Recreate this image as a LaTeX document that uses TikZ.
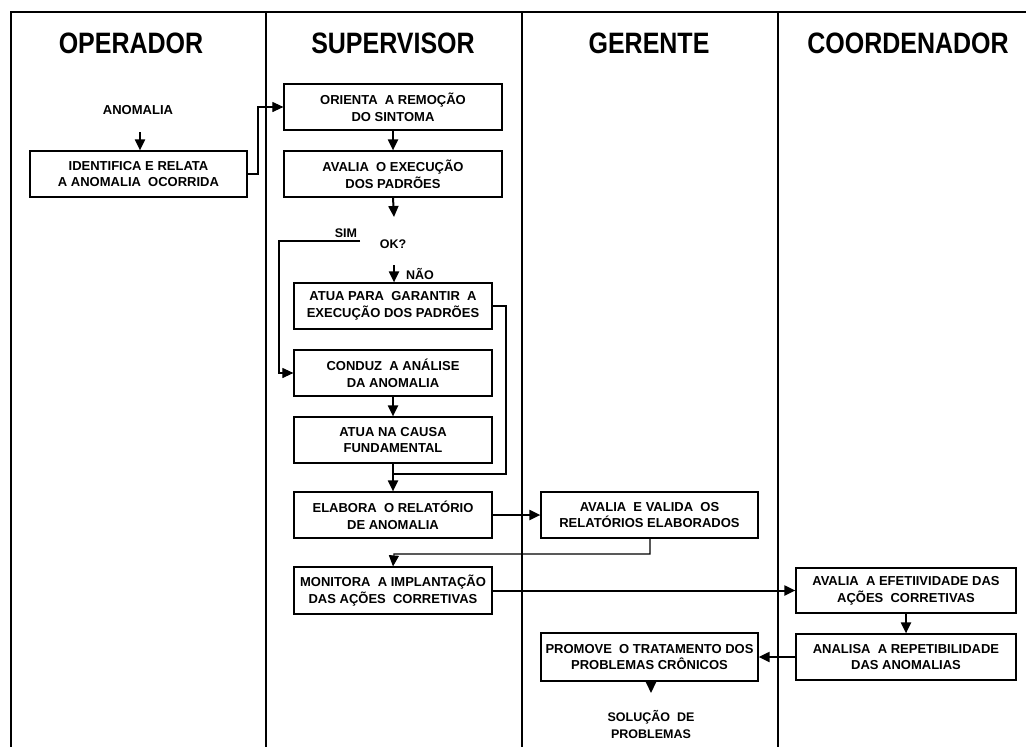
\documentclass[tikz,border=0pt]{standalone}
\usepackage{fontspec}
\setmainfont{Liberation Sans}
\usetikzlibrary{arrows.meta}
\begin{document}
\begin{tikzpicture}[x=1pt,y=-1pt,
 box/.style={draw, line width=1.2pt, minimum height=46pt, inner sep=0pt, align=center, font=\fontsize{13}{16.7}\selectfont\bfseries},
 wbox/.style={box, minimum width=218pt},
 nbox/.style={box, minimum width=198pt},
 hdr/.style={font=\fontsize{25}{30}\selectfont\bfseries, inner sep=0pt},
 lbl/.style={font=\fontsize{12.5}{17}\selectfont\bfseries, inner sep=0pt, align=center},
 arr/.style={-{Triangle[length=11pt,width=10pt]}, line width=2pt},
 tarr/.style={-{Triangle[length=11pt,width=10pt]}, line width=1.1pt},
 thinline/.style={line width=1.1pt},
 framel/.style={line width=2.2pt}]
\useasboundingbox (0,0) rectangle (1026,747);
% frame and lanes
\draw[framel] (1026,12) -- (11,12) -- (11,747);
\draw[framel] (266,12) -- (266,747);
\draw[framel] (522,12) -- (522,747);
\draw[framel] (778,12) -- (778,747);
% headers
\node[hdr] (h1) at (131,43) {\scalebox{1}[1.18]{OPERADOR}};
\node[hdr] (h2) at (393,43) {\scalebox{1}[1.18]{SUPERVISOR}};
\node[hdr] (h3) at (649,43) {\scalebox{1}[1.18]{GERENTE}};
\node[hdr] (h4) at (908,43) {\scalebox{1}[1.18]{COORDENADOR}};
% labels
\node[lbl, font=\fontsize{13}{16}\selectfont\bfseries] (anom) at (138,110) {ANOMALIA};
\node[lbl] (sim) at (346,233) {SIM};
\node[lbl] (ok) at (393,244) {OK?};
\node[lbl] (nao) at (420,274) {NÃO};
\node[lbl] (sol) at (651,724) {SOLUÇÃO~ DE\\PROBLEMAS};
% boxes
\node[box, minimum width=217pt] (ident) at (138.5,174) {IDENTIFICA E RELATA\\A ANOMALIA~ OCORRIDA};
\node[wbox] (orienta) at (393,107) {ORIENTA~ A REMOÇÃO\\DO SINTOMA};
\node[wbox] (aval1) at (393,174) {AVALIA~ O EXECUÇÃO\\DOS PADRÕES};
\node[nbox] (atuap) at (393,306) {ATUA PARA~ GARANTIR~ A\\EXECUÇÃO DOS PADRÕES};
\node[nbox] (conduz) at (393,373) {CONDUZ~ A ANÁLISE\\DA ANOMALIA};
\node[nbox] (atuan) at (393,440) {ATUA NA CAUSA\\FUNDAMENTAL};
\node[nbox] (elab) at (393,515) {ELABORA~ O RELATÓRIO\\DE ANOMALIA};
\node[nbox, minimum height=47pt] (monit) at (393,590.5) {MONITORA~ A IMPLANTAÇÃO\\DAS AÇÕES~ CORRETIVAS};
\node[box, minimum width=217pt] (avalv) at (649.5,515) {AVALIA~ E VALIDA~ OS\\RELATÓRIOS ELABORADOS};
\node[box, minimum width=217pt, minimum height=48pt] (prom) at (649.5,657) {PROMOVE~ O TRATAMENTO DOS\\PROBLEMAS CRÔNICOS};
\node[box, minimum width=220pt, minimum height=45pt] (avale) at (906,590.5) {AVALIA~ A EFETIIVIDADE DAS\\AÇÕES~ CORRETIVAS};
\node[box, minimum width=220pt] (anal) at (906,657) {ANALISA~ A REPETIBILIDADE\\DAS ANOMALIAS};
% free-end coordinates
\coordinate (okin) at (394,217);
\coordinate (naostart) at (394,265);
\coordinate (simend) at (360,241);
\coordinate (solarr) at (651,693);
\coordinate (anomb) at (140,132);
% connectors
\draw[arr] (anomb) -- (ident.north -| anomb);
\draw[tarr] (ident.east) -- (258,174) |- (orienta.west);
\draw[arr] (orienta.south) -- (aval1.north);
\draw[arr] (aval1.south) -- (okin);
\draw[tarr] (simend) -- (279,241) |- (conduz.west);
\draw[arr] (naostart) -- (atuap.north -| naostart);
\draw[arr] (conduz.south) -- (atuan.north);
\draw[thinline] (atuap.east) -- (506,306) |- (394,474);
\draw[arr] (atuan.south) -- (elab.north);
\draw[arr] (elab.east) -- (avalv.west);
\draw[tarr] (avalv.south -| 650,0) |- (394,554) -- (monit.north);
\draw[arr] (monit.east) -- (avale.west);
\draw[arr] (avale.south) -- (anal.north);
\draw[arr] (anal.west) -- (prom.east);
\draw[arr] (prom.south -| solarr) -- (solarr);
\end{tikzpicture}
\end{document}
